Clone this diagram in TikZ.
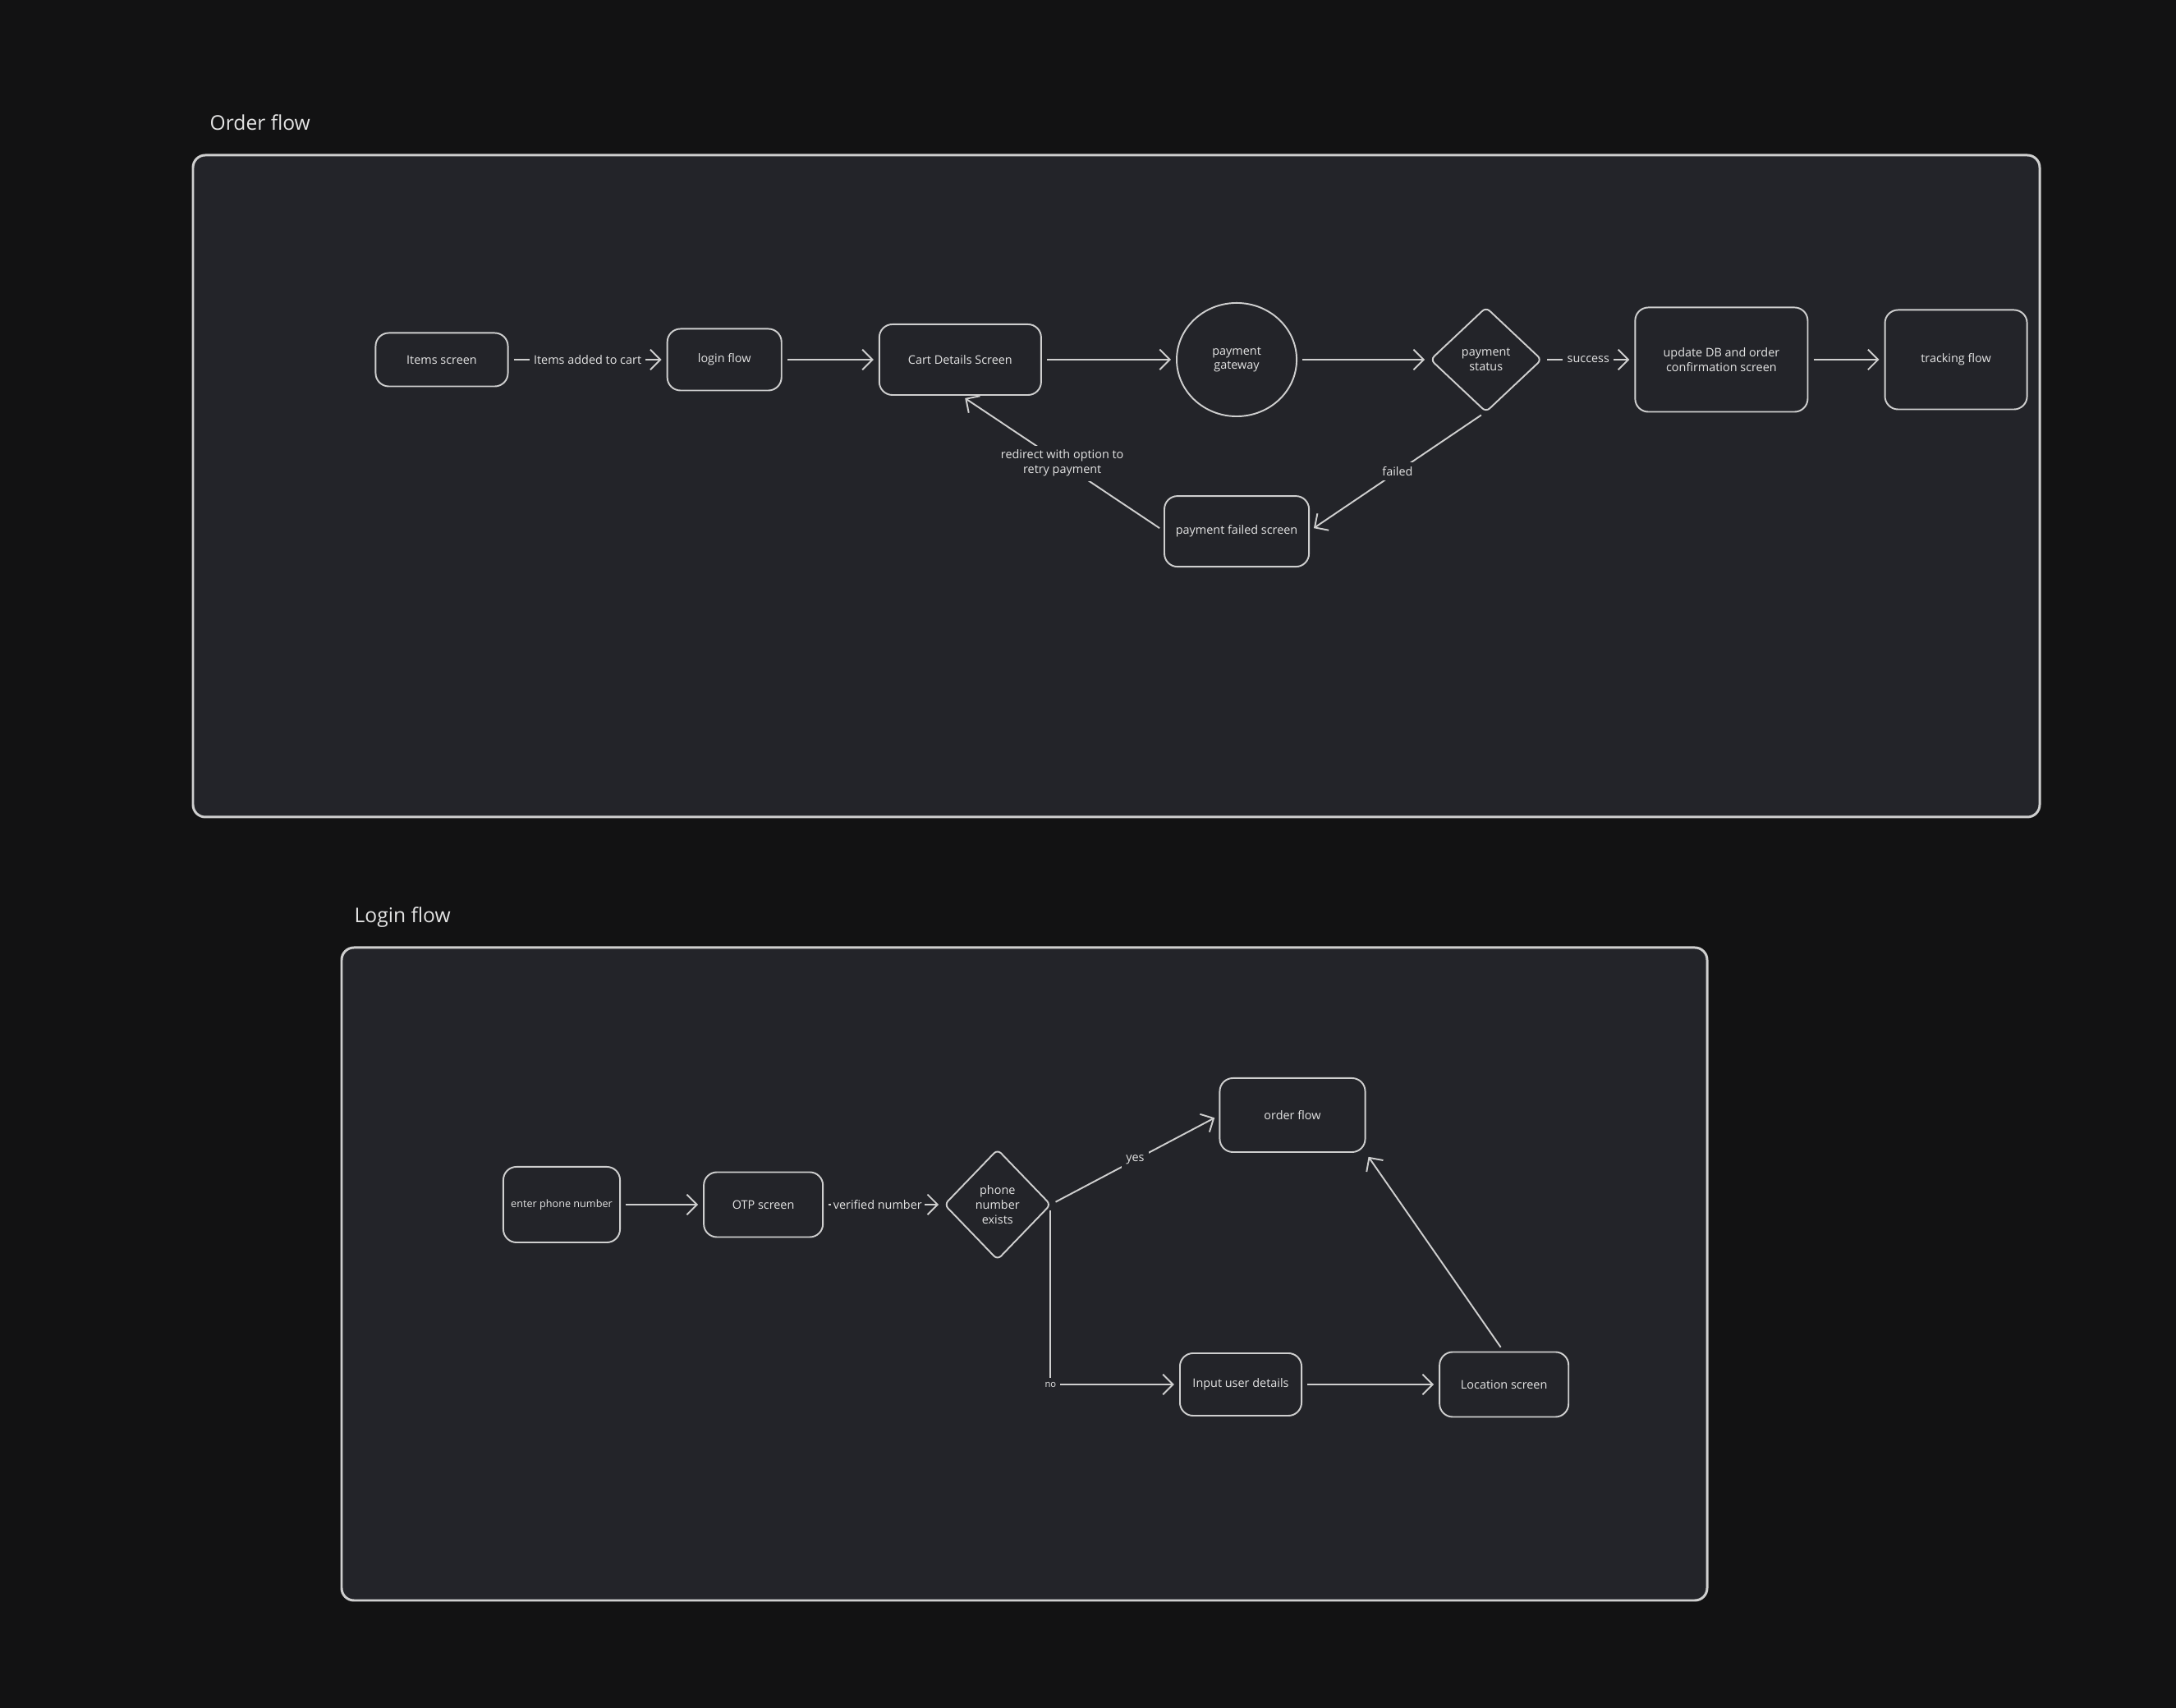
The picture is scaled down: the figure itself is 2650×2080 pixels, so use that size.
\documentclass[tikz,border=0pt]{standalone}
\usepackage{fontspec}
\setmainfont{Open Sans}
\usetikzlibrary{shapes.geometric, arrows.meta, positioning, backgrounds}
\definecolor{bgc}{HTML}{121213}
\definecolor{panelc}{HTML}{232429}
\definecolor{edgec}{HTML}{CFCFCF}
\definecolor{inkc}{HTML}{E4E4E4}
\newcommand{\nodefont}{\fontsize{4.1}{5.1}\selectfont}
\newcommand{\titlefont}{\fontsize{7}{8.4}\selectfont}
\tikzset{
    screen/.style={rectangle, draw=edgec, fill=panelc, rounded corners=0.16cm, line width=0.55pt, outer sep=0pt, text=inkc, align=center, inner sep=1pt, font=\nodefont},
    decision/.style={diamond, aspect=1, draw=edgec, fill=panelc, rounded corners=0.06cm, line width=0.55pt, outer sep=0pt, text=inkc, align=center, inner sep=0pt, font=\nodefont},
    gateway/.style={ellipse, draw=edgec, fill=panelc, line width=0.55pt, outer sep=0pt, text=inkc, align=center, inner sep=0pt, font=\nodefont},
    flow/.style={-{Straight Barb[length=3.5pt, width=7pt]}, draw=edgec, line width=0.55pt, shorten >=2pt, shorten <=2pt},
    edgelabel/.style={fill=panelc, text=inkc, align=center, inner sep=1.5pt, font=\nodefont},
    panel/.style={draw=edgec, fill=panelc, rounded corners=0.15cm, line width=0.85pt},
    paneltitle/.style={text=inkc, anchor=west, inner sep=0pt, font=\titlefont},
}

\begin{document}
\begin{tikzpicture}[x=0.01cm, y=-0.01cm]
    \fill[bgc] (0,0) rectangle (2650,2080);
    \useasboundingbox (0,0) rectangle (2650,2080);

    % order flow
    \draw[panel] (235,189) rectangle (2484,995);
    \node[paneltitle] (ordertitle) at (255,149) {Order flow};

    \node[screen, minimum width=1.61cm, minimum height=0.65cm] (items) at (538,438) {Items screen};
    \node[screen, minimum width=1.39cm, minimum height=0.75cm, right=1.94cm of items] (login) {login flow};
    \node[screen, minimum width=1.97cm, minimum height=0.86cm, right=1.19cm of login] (cart) {Cart Details Screen};
    \node[gateway, minimum width=1.46cm, minimum height=1.38cm, right=1.65cm of cart] (gw) {payment\\gateway};
    \node[decision, minimum width=1.35cm, minimum height=1.27cm, right=1.63cm of gw] (status) {payment\\status};
    \node[screen, minimum width=2.10cm, minimum height=1.27cm, right=1.14cm of status] (confirm) {update DB and order\\confirmation screen};
    \node[screen, minimum width=1.73cm, minimum height=1.21cm, right=0.94cm of confirm] (track) {tracking flow};
    \node[screen, minimum width=1.76cm, minimum height=0.86cm, below=0.97cm of gw] (failed) {payment failed screen};

    \draw[flow] (items) -- node[edgelabel] {Items added to cart} (login);
    \draw[flow] (login) -- (cart);
    \draw[flow] (cart) -- (gw);
    \draw[flow] (gw) -- (status);
    \draw[flow] (status) -- node[edgelabel] {success} (confirm);
    \draw[flow] (confirm) -- (track);
    \draw[flow] (status.south) -- node[edgelabel] {failed} (failed.east);
    \draw[flow] (failed.west) -- node[edgelabel] {redirect with option to\\retry payment} (cart.south);

    % login flow
    \draw[panel] (416,1154) rectangle (2079,1949);
    \node[paneltitle] (logintitle) at (431,1117) {Login flow};

    \node[screen, minimum width=1.42cm, minimum height=0.92cm, font=\fontsize{3.6}{4.4}\selectfont] (phone) at (684,1467) {enter phone number};
    \node[screen, minimum width=1.45cm, minimum height=0.79cm, right=1.02cm of phone] (otp) {OTP screen};
    \node[decision, minimum width=1.29cm, minimum height=1.34cm, right=1.48cm of otp] (exists) {phone\\number\\exists};
    \node[screen, minimum width=1.77cm, minimum height=0.90cm] (orderf) at (1574,1358) {order flow};
    \node[screen, minimum width=1.48cm, minimum height=0.76cm] (details) at (1511,1686) {Input user details};
    \node[screen, minimum width=1.57cm, minimum height=0.79cm, right=1.68cm of details] (loc) {Location screen};

    \draw[flow] (phone) -- (otp);
    \draw[flow] (otp) -- node[edgelabel, pos=0.45, inner sep=0.8pt] {verified number} (exists);
    \draw[flow] (exists.east) -- node[edgelabel] {yes} (orderf.west);
    \draw[flow] (exists.east) |- node[edgelabel, pos=0.5, font=\fontsize{3.2}{4}\selectfont] {no} (details.west);
    \draw[flow] (details) -- (loc);
    \draw[flow] (loc.north) -- (orderf.south east);
\end{tikzpicture}
\end{document}
